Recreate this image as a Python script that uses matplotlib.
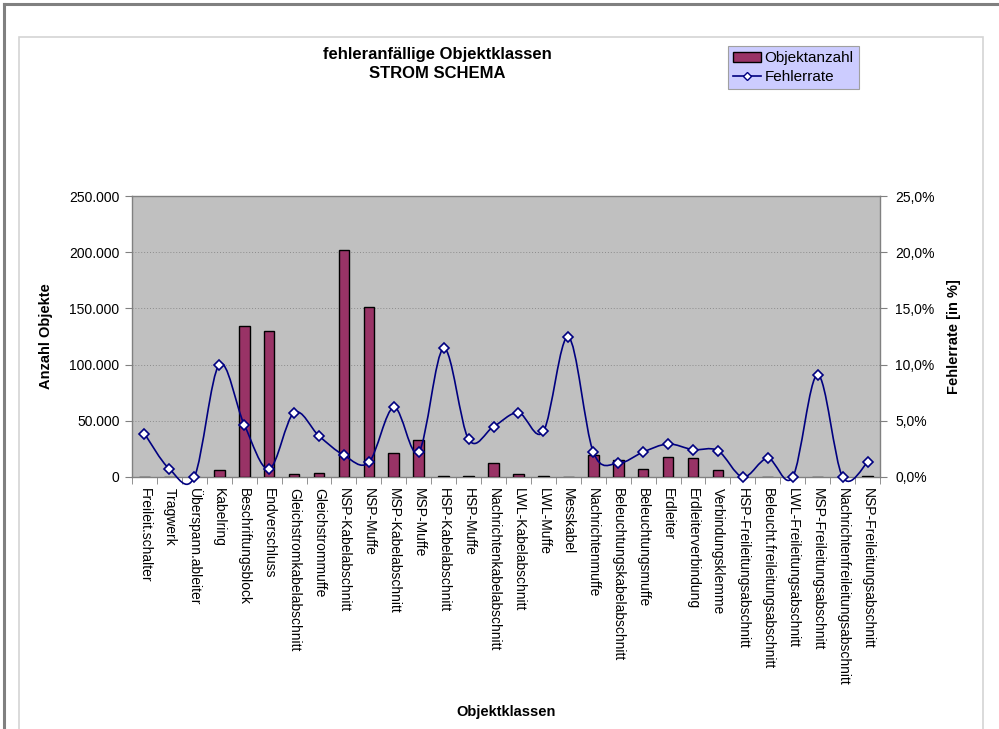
import matplotlib
matplotlib.use("Agg")
import matplotlib.pyplot as plt
from matplotlib.path import Path
from matplotlib.patches import PathPatch, Patch, Rectangle
from matplotlib.lines import Line2D
from matplotlib.ticker import FuncFormatter, MultipleLocator

plt.rcParams['font.family'] = ['Liberation Sans', 'DejaVu Sans']

# Objektklassen
categories = [
    "Freileit.schalter", "Tragwerk", "Überspann.ableiter", "Kabelring",
    "Beschriftungsblock", "Endverschluss", "Gleichstromkabelabschnitt",
    "Gleichstrommuffe", "NSP-Kabelabschnitt", "NSP-Muffe", "MSP-Kabelabschnitt",
    "MSP-Muffe", "HSP-Kabelabschnitt", "HSP-Muffe", "Nachrichtenkabelabschnitt",
    "LWL-Kabelabschnitt", "LWL-Muffe", "Messkabel", "Nachrichtenmuffe",
    "Beleuchtungskabelabschnitt", "Beleuchtungsmuffe", "Erdleiter",
    "Erdleiterverbindung", "Verbindungsklemme", "HSP-Freileitungsabschnitt",
    "Beleucht.freileitungsabschnitt", "LWL-Freileitungsabschnitt",
    "MSP-Freileitungsabschnitt", "Nachrichtenfreileitungsabschnitt",
    "NSP-Freileitungsabschnitt",
]

# Objektanzahl (Stück)
objektanzahl = [
    0, 0, 0, 6200, 134600, 129600, 3000, 3900, 201700, 151000, 21400,
    32900, 1000, 1000, 12500, 2400, 1200, 0, 19600, 15400, 7400, 17500,
    16600, 6200, 0, 0, 0, 0, 0, 1200,
]

# Fehlerrate (%)
fehlerrate = [
    3.86, 0.71, 0.0, 10.0, 4.66, 0.71, 5.72, 3.65, 1.93, 1.30, 6.2,
    2.22, 11.45, 3.35, 4.48, 5.72, 4.06, 12.46, 2.22, 1.22, 2.22, 2.94,
    2.43, 2.34, 0.0, 1.66, 0.0, 9.1, 0.0, 1.3,
]

bar_color = "#993366"
line_color = "#000080"

fig = plt.figure(figsize=(9.99, 7.29), dpi=100)
fig.patch.set_facecolor("white")

# Rahmen
fig.add_artist(Line2D([3.5 / 999, 1], [1 - 3.5 / 729, 1 - 3.5 / 729], color="#808080", lw=2.2))
fig.add_artist(Line2D([3.5 / 999, 3.5 / 999], [0, 1 - 3.5 / 729], color="#808080", lw=2.2))
fig.add_artist(Rectangle((19 / 999, -0.05), (983 - 19) / 999, 1.05 - 37 / 729,
                         fill=False, edgecolor="#D4D4D4", lw=1.2, transform=fig.transFigure))

ax = fig.add_axes([132 / 999, 252 / 729, 748 / 999, 281 / 729])
ax.set_facecolor("#C0C0C0")
x = list(range(len(categories)))

ax.bar(x, objektanzahl, width=0.43, color=bar_color, edgecolor="black", linewidth=1.0, zorder=3)
ax.set_xlim(-0.5, len(categories) - 0.5)
ax.set_ylim(0, 250000)
ax.yaxis.set_major_locator(MultipleLocator(50000))
ax.yaxis.set_major_formatter(FuncFormatter(lambda v, p: f"{int(v):,}".replace(",", ".")))
ax.grid(axis="y", color="#8C8C8C", linestyle=(0, (1, 2)), linewidth=0.7, zorder=1)
ax.set_axisbelow(True)

ax.set_xticks(x)
ax.set_xticklabels(categories, rotation=270, va="top", ha="center", fontsize=10)
ax.set_xticks([i + 0.5 for i in range(-1, len(categories))], minor=True)
ax.tick_params(axis="x", which="major", length=0, pad=8)
ax.tick_params(axis="x", which="minor", length=5, color="#808080", direction="out")
ax.tick_params(axis="y", length=5, color="#808080", labelsize=10, pad=4)

for s in ax.spines.values():
    s.set_color("#808080")
    s.set_linewidth(1.0)

ax.set_ylabel("Anzahl Objekte", fontsize=10.5, fontweight="bold", labelpad=8)
ax.set_xlabel("Objektklassen", fontsize=10.5, fontweight="bold")
ax.xaxis.set_label_coords(0.5, -(705 - 477) / 281)
ax.yaxis.set_label_coords(-(132 - 53) / 748, 0.5)

# Fehlerrate auf Sekundärachse
ax2 = ax.twinx()
ax2.set_ylim(0, 25)
ax2.yaxis.set_major_locator(MultipleLocator(5))
ax2.yaxis.set_major_formatter(FuncFormatter(lambda v, p: f"{v:.1f}%".replace(".", ",")))
ax2.tick_params(axis="y", length=5, color="#808080", labelsize=10, pad=6)
for s in ax2.spines.values():
    s.set_visible(False)
ax2.set_ylabel("Fehlerrate [in %]", fontsize=10.5, fontweight="bold", rotation=90)
ax2.yaxis.set_label_coords(1 + (947 - 880) / 748, 0.5)

# geglättete Linie (Bezier wie Excel)
n = len(fehlerrate)
verts = [(x[0], fehlerrate[0])]
codes = [Path.MOVETO]
for i in range(n - 1):
    p0 = (x[max(i - 1, 0)], fehlerrate[max(i - 1, 0)])
    p1 = (x[i], fehlerrate[i])
    p2 = (x[i + 1], fehlerrate[i + 1])
    p3 = (x[min(i + 2, n - 1)], fehlerrate[min(i + 2, n - 1)])
    c1 = (p1[0] + (p2[0] - p0[0]) / 6, p1[1] + (p2[1] - p0[1]) / 6)
    c2 = (p2[0] - (p3[0] - p1[0]) / 6, p2[1] - (p3[1] - p1[1]) / 6)
    verts += [c1, c2, p2]
    codes += [Path.CURVE4] * 3
ax2.add_patch(PathPatch(Path(verts, codes), facecolor="none", edgecolor=line_color,
                        lw=1.2, clip_on=False, zorder=4))
ax2.plot(x, fehlerrate, linestyle="none", marker="D", markersize=5.5,
         markerfacecolor="white", markeredgecolor=line_color, markeredgewidth=1.2,
         clip_on=False, zorder=5)

fig.text(437 / 999, 1 - 64 / 729, "fehleranfällige Objektklassen\nSTROM SCHEMA",
         ha="center", va="center", fontsize=12, fontweight="bold", linespacing=1.35)

handles = [
    Patch(facecolor=bar_color, edgecolor="black", linewidth=1.0),
    Line2D([0], [0], color=line_color, lw=1.2, marker="D", markersize=4.5,
           markerfacecolor="white", markeredgecolor=line_color),
]
leg = fig.legend(handles, ["Objektanzahl", "Fehlerrate"], loc="upper left",
                 bbox_to_anchor=(728 / 999, 1 - 46 / 729), fontsize=11,
                 frameon=True, fancybox=False, framealpha=1, facecolor="#CCCCFF",
                 edgecolor="#A0A0A0", borderpad=0.35, handlelength=1.8,
                 handletextpad=0.25, labelspacing=0.3, borderaxespad=0)
leg.get_frame().set_linewidth(0.8)

fig.savefig("out.png", dpi=100)
